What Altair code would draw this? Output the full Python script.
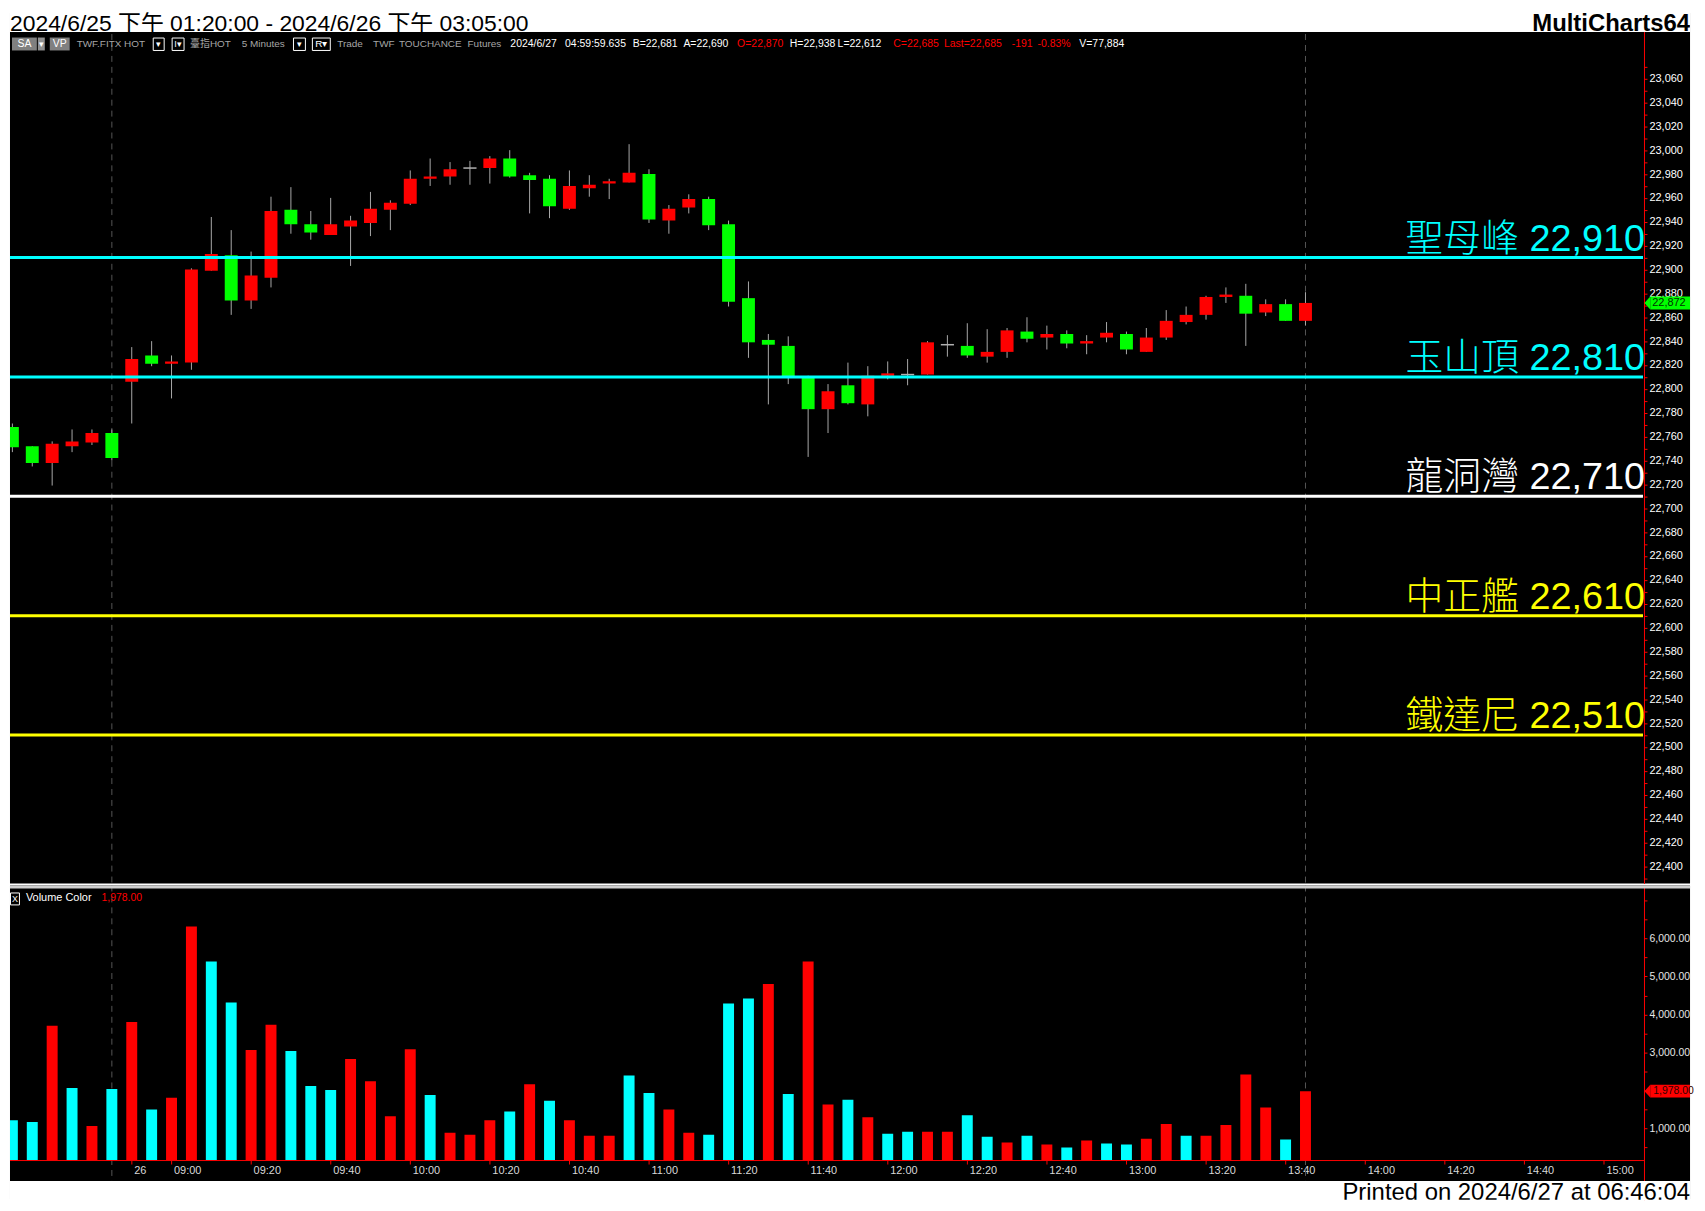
import json
import altair as alt
import pandas as pd

# ---------------- data ----------------
bar_index = list(range(1, 67))
opens = [22768, 22752, 22738, 22752, 22755, 22763, 22806, 22828, 22821, 22822,
         22899, 22912, 22874, 22893, 22950, 22938, 22929, 22936, 22939, 22950,
         22955, 22976, 22978, 22985, 22985, 22993, 22979, 22976, 22951, 22968,
         22972, 22973, 22980, 22941, 22952, 22959, 22938, 22876, 22841, 22836,
         22810, 22783, 22803, 22787, 22811, 22812, 22812, 22837, 22836, 22827,
         22831, 22848, 22843, 22846, 22838, 22843, 22846, 22831, 22843, 22856,
         22862, 22877, 22878, 22864, 22871, 22857]
highs = [22771, 22752, 22756, 22766, 22766, 22766, 22835, 22840, 22828, 22901,
         22944, 22933, 22915, 22961, 22969, 22949, 22960, 22945, 22965, 22958,
         22983, 22993, 22990, 22991, 22995, 23000, 22981, 22979, 22983, 22979,
         22976, 23005, 22984, 22954, 22963, 22961, 22941, 22890, 22846, 22844,
         22811, 22804, 22822, 22819, 22823, 22825, 22840, 22845, 22855, 22850,
         22851, 22860, 22853, 22849, 22845, 22856, 22848, 22851, 22866, 22869,
         22878, 22885, 22888, 22875, 22875, 22881]
lows = [22747, 22735, 22719, 22747, 22753, 22740, 22771, 22819, 22792, 22816,
        22899, 22862, 22867, 22885, 22930, 22925, 22929, 22903, 22928, 22933,
        22954, 22970, 22971, 22971, 22972, 22977, 22947, 22943, 22950, 22961,
        22959, 22973, 22939, 22930, 22947, 22933, 22869, 22826, 22787, 22804,
        22743, 22763, 22787, 22777, 22808, 22803, 22812, 22827, 22826, 22822,
        22826, 22839, 22833, 22834, 22829, 22839, 22829, 22831, 22841, 22854,
        22858, 22872, 22836, 22861, 22857, 22853]
closes = [22751, 22738, 22754, 22756, 22763, 22742, 22825, 22821, 22823, 22900,
          22913, 22874, 22895, 22949, 22938, 22931, 22938, 22941, 22951, 22956,
          22976, 22978, 22984, 22985, 22993, 22978, 22975, 22953, 22970, 22971,
          22974, 22981, 22942, 22951, 22959, 22937, 22873, 22839, 22837, 22810,
          22783, 22798, 22788, 22811, 22813, 22812, 22839, 22837, 22828, 22831,
          22849, 22842, 22846, 22838, 22840, 22847, 22833, 22843, 22857, 22862,
          22877, 22879, 22863, 22871, 22857, 22872]
volumes = [1213, 1162, 3700, 2059, 1059, 2033, 3803, 1495, 1803, 6315,
           5392, 4315, 3059, 3726, 3033, 2110, 2008, 2828, 2238, 1315,
           3085, 1879, 879, 828, 1213, 1444, 2162, 1726, 1213, 803,
           803, 2392, 1931, 1495, 879, 828, 4290, 4418, 4803, 1905,
           5392, 1623, 1751, 1290, 854, 905, 905, 905, 1341, 777,
           623, 803, 572, 495, 674, 597, 572, 726, 1110, 803,
           803, 1085, 2418, 1546, 700, 1978]
volume_dirs = ['down', 'down', 'up', 'down', 'up', 'down', 'up', 'down', 'up', 'up',
               'down', 'down', 'up', 'up', 'down', 'down', 'down', 'up', 'up', 'up',
               'up', 'down', 'up', 'up', 'up', 'down', 'up', 'down', 'up', 'up',
               'up', 'down', 'down', 'up', 'up', 'down', 'down', 'down', 'up', 'down',
               'up', 'up', 'down', 'up', 'down', 'down', 'up', 'up', 'down', 'down',
               'up', 'down', 'up', 'down', 'up', 'down', 'down', 'up', 'up', 'down',
               'up', 'up', 'up', 'up', 'down', 'up']
time_tick_index = [7, 9, 13, 17, 21, 25, 29, 33, 37, 41, 45, 49, 53, 57, 61, 65, 69, 73, 77, 81]
time_tick_labels = ['26', '09:00', '09:20', '09:40', '10:00', '10:20', '10:40', '11:00', '11:20',
                    '11:40', '12:00', '12:20', '12:40', '13:00', '13:20', '13:40', '14:00',
                    '14:20', '14:40', '15:00']
session_breaks = [6, 66]
level_names = ['聖母峰', '玉山頂', '龍洞灣', '中正艦', '鐵達尼']
level_values = [22910, 22810, 22710, 22610, 22510]
level_colors = ['#00ffff', '#00ffff', '#ffffff', '#ffff00', '#ffff00']
last_price = 22872
last_volume = 1978
title_text = '2024/6/25 下午 01:20:00 - 2024/6/26 下午 03:05:00'
brand_text = 'MultiCharts64'
printed_text = 'Printed on 2024/6/27 at 06:46:04'
header_texts = ['TWF.FITX HOT', '臺指HOT', '5 Minutes', 'Trade', 'TWF', 'TOUCHANCE', 'Futures',
                '2024/6/27', '04:59:59.635', 'B=22,681', 'A=22,690', 'O=22,870', 'H=22,938',
                'L=22,612', 'C=22,685', 'Last=22,685', '-191', '-0.83%', 'V=77,884']
header_kinds = ['gray', 'gray', 'gray', 'gray', 'gray', 'gray', 'gray',
                'white', 'white', 'white', 'white', 'red', 'white',
                'white', 'red', 'red', 'red', 'red', 'white']

# ---------------- layout ----------------
FONT = 'Liberation Sans, Noto Sans CJK TC, sans-serif'
W = 1689
HP = 876            # price panel: page y 8 .. 884
BAND = 20           # white title band at top of price panel
HV = 316            # volume panel
AXIS_X = 1642.7
X_DOM = [0.88, 85.33]
P_DOM = [22385.6, 23115.6]
BASE_Y = 276
BLACK_END = 297
VOL_BASE = 161.5
V_DOM = [-887.2, 7397.3]
header_x = [67, 181, 233, 329, 365, 391, 460, 503, 558, 626, 677, 731, 784, 832, 888, 939, 1007, 1033, 1075]
kind_color = {'gray': '#a6a6a6', 'white': '#ffffff', 'red': '#ff0000'}
kind_size = {'gray': 10, 'white': 10.5, 'red': 10.5}
HY = 32.5  # header row (plot y)

xs = alt.Scale(domain=X_DOM, nice=False, zero=False, padding=0)
ys = alt.Scale(domain=P_DOM, nice=False, zero=False, padding=0)
vs = alt.Scale(domain=V_DOM, nice=False, zero=False, padding=0)
one = pd.DataFrame({'k': [0]})


def label(text, x, y, color, size=11, align='left', baseline='middle', weight='normal', font=FONT, clip=False):
    return alt.Chart(one).mark_text(text=text, align=align, baseline=baseline, fontSize=size,
                                    fontWeight=weight, font=font, color=color, clip=clip).encode(
        x=alt.value(x), y=alt.value(y))


def box(x1, x2, y1, y2, fill=None, stroke=None):
    kw = {}
    if fill is not None:
        kw['fill'] = fill
    else:
        kw['fillOpacity'] = 0
    if stroke is not None:
        kw['stroke'] = stroke
        kw['strokeWidth'] = 1
    return alt.Chart(one).mark_rect(**kw).encode(
        x=alt.value(x1), x2=alt.value(x2), y=alt.value(y1), y2=alt.value(y2))


# ---------------- price panel ----------------
candles = pd.DataFrame({'i': bar_index, 'open': opens, 'high': highs, 'low': lows, 'close': closes})
base = alt.Chart(candles).transform_calculate(
    dir="datum.close > datum.open ? 'up' : (datum.close < datum.open ? 'down' : 'flat')")

price_axis = alt.Axis(
    orient='right', offset=AXIS_X - W, values=list(range(22390, 23071, 10)),
    labelExpr="(datum.value % 20 == 0 && datum.value >= 22400 && datum.value <= 23060) ? format(datum.value, ',') : ''",
    domainColor='#ff0000', tickColor='#ff0000', labelColor='#ffffff', labelFont='Liberation Sans',
    labelFontSize=11, tickSize=3, labelPadding=2, grid=False, title=None, labelOverlap=False,
    labelFlush=False, domainWidth=1)


def py(field):
    return alt.Y(field, scale=ys, axis=price_axis)


def px(field):
    return alt.X(field, scale=xs, axis=None)


sessions_p = alt.Chart(pd.DataFrame({'i': session_breaks})).mark_rule(
    color='#555555', strokeDash=[6, 5], strokeWidth=1).encode(x=px('i:Q'))

wicks = base.mark_rule(color='#a8a8a8', strokeWidth=1).encode(
    x=px('i:Q'), y=py('low:Q'), y2='high:Q')

bodies = base.mark_bar(size=13, clip=True).encode(
    x=px('i:Q'), y=py('open:Q'), y2='close:Q',
    color=alt.Color('dir:N', scale=alt.Scale(domain=['up', 'down', 'flat'],
                                             range=['#ff0000', '#00ff00', '#a8a8a8']), legend=None))

doji = base.transform_filter('datum.open == datum.close').transform_calculate(
    xl='datum.i - 0.33', xr='datum.i + 0.33').mark_rule(color='#b0b0b0', strokeWidth=1.5).encode(
    x=px('xl:Q'), x2='xr:Q', y=py('close:Q'))

levels = pd.DataFrame({'name': level_names, 'value': level_values, 'color': level_colors})
levels['label'] = [f"{n} {v:,}" for n, v in zip(level_names, level_values)]
level_lines = alt.Chart(levels).mark_rule(strokeWidth=3).encode(
    y=py('value:Q'), x=alt.value(0), x2=alt.value(AXIS_X - 1),
    color=alt.Color('color:N', scale=None))
level_text = alt.Chart(levels).mark_text(align='right', baseline='alphabetic', dy=-7, fontSize=38,
                                         fontWeight=300, font=FONT).encode(
    y=py('value:Q'), x=alt.value(AXIS_X + 1),
    text='label:N', color=alt.Color('color:N', scale=None))

lp = pd.DataFrame({'price': [last_price]})
lp_box = alt.Chart(lp).mark_rule(strokeWidth=13, color='#00ff00').encode(
    x=alt.value(1649), x2=alt.value(W), y=py('price:Q'))
lp_tip = alt.Chart(lp).mark_point(shape='M0,-1L-0.9,0L0,1Z', filled=True, size=169, opacity=1,
                                  color='#00ff00', strokeWidth=0).encode(
    x=alt.value(1649), y=py('price:Q'))
lp_text = alt.Chart(lp).mark_text(align='left', baseline='middle', fontSize=11, font='Liberation Sans',
                                  color='#003000').encode(
    x=alt.value(1651), y=py('price:Q'), text=alt.Text('price:Q', format=','))

header_layers = [
    box(2, 27, HY - 7, HY + 6, fill='#808080'), label('SA', 14.5, HY, '#ffffff', size=10.5, align='center'),
    box(28, 35, HY - 7, HY + 6, fill='#909090'), label('▾', 31.5, HY, '#ffffff', size=9, align='center'),
    box(40, 60, HY - 7, HY + 6, fill='#808080'), label('VP', 50, HY, '#ffffff', size=10.5, align='center'),
    box(144, 155, HY - 6.5, HY + 6, stroke='#ffffff'), label('▾', 149.5, HY, '#ffffff', size=9, align='center'),
    box(163, 175, HY - 6.5, HY + 6, stroke='#ffffff'), label('I▾', 169, HY, '#ffffff', size=9, align='center'),
    box(285, 297, HY - 6.5, HY + 6, stroke='#ffffff'), label('▾', 291, HY, '#ffffff', size=9, align='center'),
    box(304, 322, HY - 6.5, HY + 6, stroke='#ffffff'), label('R▾', 313, HY, '#ffffff', size=10, align='center'),
]
for t, k, hx in zip(header_texts, header_kinds, header_x):
    header_layers.append(label(t, hx, HY, kind_color[k], size=kind_size[k]))

top_band = box(0, W, -1, BAND, fill='#ffffff')
title_layers = [
    label(title_text, 0, 19, '#000000', size=23, baseline='alphabetic', clip=True),
    label(brand_text, W, 19, '#000000', size=24, align='right', baseline='alphabetic', weight='bold', clip=True),
]

price = alt.layer(
    sessions_p, wicks, bodies, doji, level_lines, level_text, lp_box, lp_tip, lp_text,
    *header_layers, top_band, *title_layers
).properties(width=W, height=HP)

# ---------------- volume panel ----------------
vol_df = pd.DataFrame({'i': bar_index, 'volume': volumes, 'vdir': volume_dirs})
label_expr = '{}[indexof({}, datum.value)]'.format(json.dumps(time_tick_labels), json.dumps(time_tick_index))
time_axis = alt.Axis(
    orient='bottom', offset=BASE_Y - HV, values=time_tick_index, labelExpr=label_expr, domain=False,
    tickColor='#ff0000', tickSize=4, labelColor='#d8d8d8', labelFontSize=11, labelFont='Liberation Sans',
    labelAlign='left', labelOffset=2, labelPadding=1, labelBaseline='top', grid=False, title=None,
    labelOverlap=False, labelFlush=False)
vol_axis = alt.Axis(
    orient='right', offset=AXIS_X - W, values=list(range(500, 7001, 500)),
    labelExpr=("(datum.value % 1000 == 0 && datum.value <= 6000 && abs(datum.value - {}) > 300)"
               " ? format(datum.value, ',.2f') : ''").format(last_volume),
    domainColor='#ff0000', tickColor='#ff0000', labelColor='#e6e6e6', labelFont='Liberation Sans',
    labelFontSize=10.5, tickSize=3, labelPadding=2, grid=False, title=None, labelOverlap=False,
    labelFlush=False, domainWidth=1)


def vx(field):
    return alt.X(field, scale=xs, axis=time_axis)


def vy(field):
    return alt.Y(field, scale=vs, axis=vol_axis)


sessions_v = alt.Chart(pd.DataFrame({'i': session_breaks})).mark_rule(
    color='#555555', strokeDash=[6, 5], strokeWidth=1).encode(x=vx('i:Q'))

vol_bars = alt.Chart(vol_df).mark_bar(size=11, clip=True).encode(
    x=vx('i:Q'), y=vy('volume:Q'), y2=alt.datum(VOL_BASE),
    color=alt.Color('vdir:N', scale=alt.Scale(domain=['up', 'down'], range=['#ff0000', '#00ffff']),
                    legend=None))

baseline_rule = alt.Chart(one).mark_rule(color='#ff0000', strokeWidth=1).encode(
    x=alt.value(0), x2=alt.value(AXIS_X), y=alt.value(BASE_Y + 0.5))
separator = alt.Chart(one).mark_rule(color='#cfcfcf', strokeWidth=3).encode(
    x=alt.value(0), x2=alt.value(W), y=alt.value(1.5))

lv = pd.DataFrame({'v': [last_volume]})
lv_box = alt.Chart(lv).mark_rule(strokeWidth=13, color='#ff0000').encode(
    x=alt.value(1649), x2=alt.value(W), y=vy('v:Q'))
lv_tip = alt.Chart(lv).mark_point(shape='M0,-1L-0.9,0L0,1Z', filled=True, size=169, opacity=1,
                                  color='#ff0000', strokeWidth=0).encode(
    x=alt.value(1649), y=vy('v:Q'))
lv_text = alt.Chart(lv).mark_text(align='left', baseline='middle', fontSize=10.5, font='Liberation Sans',
                                  color='#300000').encode(
    x=alt.value(1652), y=vy('v:Q'), text=alt.Text('v:Q', format=',.2f'))
lv_label = alt.Chart(lv).mark_text(align='left', baseline='middle', fontSize=10.5, font='Liberation Sans',
                                   color='#ff0000').encode(
    x=alt.value(92), y=alt.value(13), text=alt.Text('v:Q', format=',.2f'))

vol_header = [
    box(0.5, 9.5, 7.5, 19.5, stroke='#ffffff'),
    label('X', 5, 13.5, '#ffffff', size=9, align='center'),
    label('Volume Color', 16, 13, '#ffffff', size=11),
]
bottom_band = box(0, W, BLACK_END, HV + 1, fill='#ffffff')
printed = label(printed_text, W, HV, '#000000', size=24, align='right', baseline='alphabetic', clip=True)

volume = alt.layer(
    sessions_v, vol_bars, baseline_rule, separator, lv_box, lv_tip, lv_text, lv_label,
    *vol_header, bottom_band, printed
).properties(width=W, height=HV)

chart = alt.vconcat(price, volume, spacing=0).resolve_scale(
    color='independent'
).properties(
    padding=0, background='white'
).configure_view(fill='black', stroke=None, strokeWidth=0)

chart.save('out.html', embed_options={'renderer': 'svg', 'actions': False})
